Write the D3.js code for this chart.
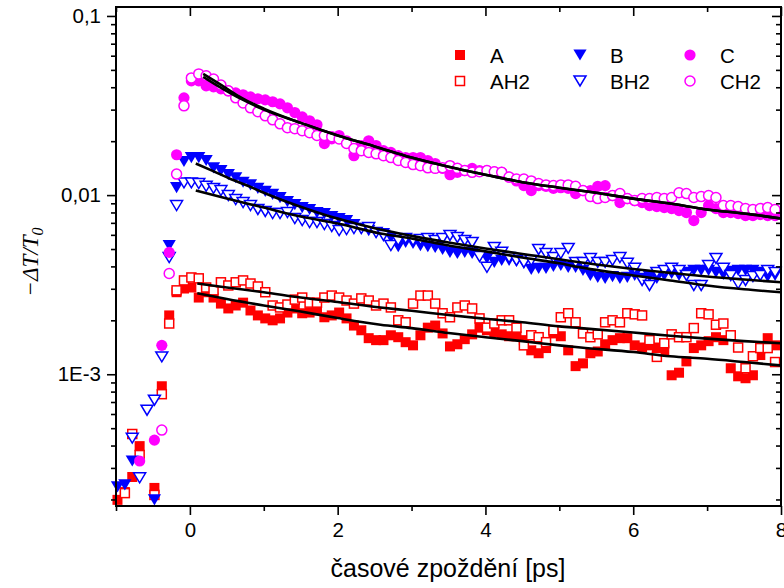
<!DOCTYPE html>
<html><head><meta charset="utf-8">
<script src="https://cdn.jsdelivr.net/npm/d3@7"></script>
<style>body{margin:0;background:#fff}svg{display:block}</style>
</head><body>
<svg id="c" width="784" height="588"></svg>
<script>
// ---------- data ----------
const times = [-0.98,-0.88,-0.78,-0.68,-0.58,-0.48,-0.38,-0.28,-0.18,-0.08,
 0.02,0.12,0.22,0.32,0.42,0.52,0.62,0.72,0.82,0.92,
 1.02,1.12,1.22,1.32,1.42,1.52,1.62,1.72,1.82,1.92,
 2.02,2.12,2.22,2.32,2.42,2.52,2.62,2.72,2.82,2.92,
 3.02,3.12,3.22,3.32,3.42,3.52,3.62,3.72,3.82,3.92,
 4.02,4.12,4.22,4.32,4.42,4.52,4.62,4.72,4.82,4.92,
 5.02,5.12,5.22,5.32,5.42,5.52,5.62,5.72,5.82,5.92,
 6.02,6.12,6.22,6.32,6.42,6.52,6.62,6.72,6.82,6.92,
 7.02,7.12,7.22,7.32,7.42,7.52,7.62,7.72,7.82,7.92];

const valuesA = [1.99e-4,2.20e-4,2.67e-4,3.97e-4,null,2.32e-4,8.57e-4,2.13e-3,2.87e-3,3.01e-3,
 3.05e-3,2.68e-3,2.87e-3,2.68e-3,2.48e-3,2.33e-3,2.42e-3,2.51e-3,2.27e-3,2.13e-3,
 2.05e-3,2.00e-3,2.05e-3,2.21e-3,2.33e-3,2.19e-3,2.21e-3,2.27e-3,2.08e-3,2.13e-3,
 2.21e-3,2.05e-3,1.87e-3,1.76e-3,1.59e-3,1.55e-3,1.55e-3,1.65e-3,1.61e-3,1.51e-3,
 1.45e-3,1.65e-3,1.82e-3,1.87e-3,1.69e-3,1.43e-3,1.47e-3,1.57e-3,1.67e-3,1.82e-3,
 1.76e-3,1.72e-3,1.67e-3,1.63e-3,1.63e-3,1.55e-3,1.36e-3,1.31e-3,1.40e-3,1.69e-3,
 1.63e-3,1.36e-3,1.11e-3,1.15e-3,1.31e-3,1.34e-3,1.47e-3,1.55e-3,1.59e-3,1.59e-3,
 1.45e-3,1.41e-3,1.45e-3,1.41e-3,1.36e-3,9.87e-4,1.02e-3,1.18e-3,1.40e-3,1.45e-3,
 1.53e-3,1.61e-3,1.55e-3,1.08e-3,9.74e-4,9.50e-4,9.87e-4,1.28e-3,1.59e-3,1.45e-3];

const valuesAH2 = [null,2.17e-4,4.64e-4,3.54e-4,null,2.12e-4,7.74e-4,1.92e-3,2.94e-3,3.34e-3,
 3.47e-3,3.43e-3,3.05e-3,2.94e-3,3.26e-3,3.13e-3,3.26e-3,3.34e-3,3.21e-3,3.09e-3,
 2.87e-3,2.42e-3,2.36e-3,2.45e-3,2.61e-3,2.68e-3,2.51e-3,2.51e-3,2.68e-3,2.75e-3,
 2.68e-3,2.58e-3,2.48e-3,2.65e-3,2.58e-3,2.42e-3,2.48e-3,2.36e-3,2.00e-3,1.95e-3,
 2.48e-3,2.75e-3,2.75e-3,2.48e-3,2.19e-3,2.08e-3,2.36e-3,2.42e-3,2.33e-3,2.05e-3,
 1.82e-3,1.92e-3,2.00e-3,2.00e-3,1.82e-3,1.45e-3,1.65e-3,1.61e-3,1.51e-3,1.76e-3,
 2.08e-3,2.19e-3,1.95e-3,1.69e-3,1.61e-3,1.67e-3,1.95e-3,2.00e-3,1.95e-3,2.19e-3,
 2.16e-3,2.13e-3,1.55e-3,1.25e-3,1.49e-3,1.67e-3,1.61e-3,1.61e-3,1.81e-3,2.19e-3,
 2.16e-3,1.89e-3,1.92e-3,1.65e-3,1.41e-3,1.08e-3,1.26e-3,1.40e-3,1.40e-3,1.17e-3];

const valuesB = [2.35e-4,2.41e-4,3.28e-4,null,null,1.99e-4,null,5.23e-3,1.10e-2,1.54e-2,
 1.62e-2,1.62e-2,1.56e-2,1.42e-2,1.37e-2,1.30e-2,1.25e-2,1.18e-2,1.14e-2,1.09e-2,
 1.05e-2,1.01e-2,9.69e-3,9.20e-3,8.85e-3,8.52e-3,8.31e-3,7.99e-3,7.89e-3,7.59e-3,
 7.40e-3,7.21e-3,6.85e-3,6.50e-3,6.34e-3,6.18e-3,6.10e-3,5.80e-3,5.16e-3,5.44e-3,
 5.37e-3,5.23e-3,5.16e-3,5.10e-3,4.97e-3,4.79e-3,4.72e-3,4.79e-3,4.72e-3,4.54e-3,
 4.43e-3,4.21e-3,4.32e-3,4.32e-3,4.27e-3,4.16e-3,3.85e-3,3.90e-3,3.90e-3,4.00e-3,
 4.05e-3,3.95e-3,3.95e-3,3.80e-3,3.56e-3,3.47e-3,3.43e-3,3.51e-3,3.43e-3,3.47e-3,
 3.56e-3,3.43e-3,3.51e-3,3.43e-3,3.56e-3,3.65e-3,3.56e-3,3.70e-3,3.80e-3,3.80e-3,
 3.80e-3,3.70e-3,3.61e-3,3.75e-3,3.80e-3,3.80e-3,3.80e-3,3.70e-3,3.51e-3,3.56e-3];

const valuesBH2 = [null,null,4.40e-4,2.64e-4,6.30e-4,7.16e-4,1.25e-3,4.48e-3,8.74e-3,1.17e-2,
 1.17e-2,1.16e-2,1.12e-2,1.09e-2,1.06e-2,9.94e-3,9.44e-3,9.08e-3,8.74e-3,8.31e-3,
 8.10e-3,7.89e-3,7.89e-3,7.99e-3,7.40e-3,7.21e-3,7.03e-3,7.03e-3,6.85e-3,6.67e-3,
 6.34e-3,6.42e-3,6.50e-3,6.50e-3,6.59e-3,6.18e-3,5.95e-3,5.23e-3,5.58e-3,5.73e-3,
 5.58e-3,5.65e-3,5.73e-3,5.58e-3,5.73e-3,5.95e-3,5.80e-3,5.58e-3,5.44e-3,4.54e-3,
 3.95e-3,5.10e-3,4.79e-3,4.48e-3,4.32e-3,4.21e-3,4.32e-3,4.97e-3,4.72e-3,4.48e-3,
 4.72e-3,5.04e-3,4.21e-3,4.21e-3,4.43e-3,4.21e-3,4.21e-3,4.32e-3,4.48e-3,4.16e-3,
 3.90e-3,3.34e-3,3.13e-3,3.70e-3,3.80e-3,3.90e-3,3.80e-3,3.56e-3,3.13e-3,3.13e-3,
 4.05e-3,4.43e-3,3.90e-3,3.56e-3,3.21e-3,3.34e-3,3.51e-3,3.56e-3,3.80e-3,3.70e-3];

const valuesC = [null,null,null,3.28e-4,null,4.29e-4,1.45e-3,4.79e-3,1.68e-2,3.49e-2,
 4.34e-2,4.34e-2,4.07e-2,4.02e-2,3.92e-2,3.82e-2,3.72e-2,3.63e-2,3.53e-2,3.45e-2,
 3.40e-2,3.32e-2,3.23e-2,3.07e-2,2.89e-2,2.73e-2,2.60e-2,2.47e-2,1.94e-2,2.06e-2,
 2.15e-2,2.01e-2,1.66e-2,1.89e-2,2.01e-2,1.89e-2,1.77e-2,1.73e-2,1.66e-2,1.62e-2,
 1.62e-2,1.62e-2,1.56e-2,1.50e-2,1.41e-2,1.30e-2,1.34e-2,1.37e-2,1.41e-2,1.37e-2,
 1.37e-2,1.35e-2,1.34e-2,1.26e-2,1.20e-2,1.13e-2,1.06e-2,1.13e-2,1.12e-2,1.09e-2,
 1.10e-2,1.09e-2,1.02e-2,1.06e-2,1.06e-2,1.12e-2,1.13e-2,9.94e-3,9.08e-3,9.56e-3,
 9.32e-3,9.08e-3,8.74e-3,8.63e-3,8.52e-3,8.41e-3,8.20e-3,7.99e-3,7.21e-3,7.99e-3,
 8.74e-3,8.41e-3,7.99e-3,7.99e-3,7.89e-3,7.69e-3,7.69e-3,7.79e-3,7.69e-3,7.69e-3];

const valuesCH2 = [null,null,null,null,null,null,4.88e-4,3.65e-3,1.31e-2,3.15e-2,
 4.51e-2,4.75e-2,4.63e-2,4.45e-2,4.12e-2,3.82e-2,3.49e-2,3.27e-2,3.07e-2,2.92e-2,
 2.77e-2,2.63e-2,2.50e-2,2.38e-2,2.35e-2,2.29e-2,2.23e-2,2.15e-2,2.15e-2,2.12e-2,
 2.06e-2,1.94e-2,1.82e-2,1.77e-2,1.73e-2,1.70e-2,1.66e-2,1.62e-2,1.56e-2,1.52e-2,
 1.48e-2,1.46e-2,1.42e-2,1.41e-2,1.42e-2,1.46e-2,1.41e-2,1.37e-2,1.34e-2,1.35e-2,
 1.37e-2,1.35e-2,1.34e-2,1.26e-2,1.23e-2,1.23e-2,1.20e-2,1.16e-2,1.14e-2,1.13e-2,
 1.14e-2,1.14e-2,1.12e-2,1.06e-2,9.81e-3,9.56e-3,9.69e-3,9.94e-3,1.02e-2,9.56e-3,
 9.32e-3,9.56e-3,9.56e-3,9.69e-3,9.56e-3,9.69e-3,1.03e-2,1.02e-2,9.69e-3,9.81e-3,
 9.94e-3,9.69e-3,8.74e-3,8.74e-3,8.63e-3,8.41e-3,8.31e-3,8.41e-3,8.52e-3,8.31e-3];

// fitted curves (sampled)
const fitTimesA = [0.1,0.5,1.0,1.5,2.0,2.58,3.0,3.5,4.0,4.5,5.0,5.29,6.0,6.5,7.0,7.5,8.0];
const fitA   = [2.83e-3,2.63e-3,2.42e-3,2.24e-3,2.06e-3,1.89e-3,1.81e-3,1.70e-3,1.61e-3,1.53e-3,1.45e-3,1.41e-3,1.33e-3,1.26e-3,1.22e-3,1.17e-3,1.12e-3];
const fitAH2 = [3.21e-3,3.05e-3,2.87e-3,2.68e-3,2.53e-3,2.36e-3,2.26e-3,2.14e-3,2.04e-3,1.95e-3,1.85e-3,1.81e-3,1.71e-3,1.64e-3,1.58e-3,1.53e-3,1.49e-3];
const fitTimesB = [0.08,0.3,0.55,0.8,1.0,1.45,1.9,2.2,2.58,3.0,3.5,4.0,4.5,5.0,5.5,6.0,6.5,7.0,7.5,8.0];
const fitB = [1.50e-2,1.37e-2,1.23e-2,1.12e-2,1.03e-2,8.74e-3,7.59e-3,7.03e-3,6.42e-3,5.92e-3,5.44e-3,5.04e-3,4.69e-3,4.38e-3,4.10e-3,3.87e-3,3.68e-3,3.51e-3,3.38e-3,3.26e-3];
const fitTimesBH2 = [0.08,0.5,1.0,1.5,2.0,2.58,3.0,3.5,4.0,4.5,5.0,5.29,6.0,6.5,7.0,7.5,8.0];
const fitBH2 = [1.06e-2,9.56e-3,8.52e-3,7.59e-3,6.94e-3,6.10e-3,5.73e-3,5.23e-3,4.85e-3,4.48e-3,4.16e-3,3.95e-3,3.56e-3,3.34e-3,3.13e-3,2.98e-3,2.87e-3];
const fitTimesC = [0.18,0.4,0.7,1.0,1.5,2.0,2.5,3.0,3.5,4.0,4.5,5.0,5.5,6.0,6.5,7.0,7.5,8.0];
const fitC   = [4.75e-2,4.18e-2,3.49e-2,3.04e-2,2.53e-2,2.15e-2,1.87e-2,1.62e-2,1.44e-2,1.30e-2,1.18e-2,1.10e-2,1.03e-2,9.56e-3,8.97e-3,8.31e-3,7.89e-3,7.40e-3];
const fitCH2 = [4.57e-2,4.02e-2,3.43e-2,3.00e-2,2.53e-2,2.15e-2,1.87e-2,1.62e-2,1.44e-2,1.30e-2,1.18e-2,1.10e-2,1.03e-2,9.56e-3,8.97e-3,8.31e-3,7.89e-3,7.40e-3];

const xTickValues = [0,2,4,6,8];
const xMinorTicks = [-1,1,3,5,7];
const yTickValues = [1e-3,1e-2,1e-1];
const yTickLabels = ["1E-3","0,01","0,1"];
const legendNames = ["A","AH2","B","BH2","C","CH2"];

// ---------- drawing ----------
const svg = d3.select('#c');
const M = {l:116, r:781, t:7, b:506};
const x = d3.scaleLinear().domain([-1,8]).range([M.l, M.r]);
const y = d3.scaleLog().domain([1.839e-4, 0.1122]).range([M.b, M.t]);
const FONT = "'Liberation Sans', Arial, sans-serif";

const series = [
  {name:legendNames[0], vals:valuesA,   color:'#ff0000', shape:'square',   open:false},
  {name:legendNames[1], vals:valuesAH2, color:'#ff0000', shape:'square',   open:true},
  {name:legendNames[2], vals:valuesB,   color:'#0000ff', shape:'triangle', open:false},
  {name:legendNames[3], vals:valuesBH2, color:'#0000ff', shape:'triangle', open:true},
  {name:legendNames[4], vals:valuesC,   color:'#ff00ff', shape:'circle',   open:false},
  {name:legendNames[5], vals:valuesCH2, color:'#ff00ff', shape:'circle',   open:true}
];
const fits = [
  {t:fitTimesA, v:fitA}, {t:fitTimesA, v:fitAH2},
  {t:fitTimesB, v:fitB}, {t:fitTimesBH2, v:fitBH2},
  {t:fitTimesC, v:fitC}, {t:fitTimesC, v:fitCH2}
];

function marker(sel, s) {
  sel.each(function(){
    const g = d3.select(this);
    const fill = s.open ? '#fff' : s.color;
    const sw = s.open ? 1.5 : 0;
    if (s.shape === 'square') {
      const a = s.open ? 9 : 10;
      g.append('rect').attr('x',-a/2).attr('y',-a/2).attr('width',a).attr('height',a)
        .attr('fill',fill).attr('stroke',s.color).attr('stroke-width',sw);
    } else if (s.shape === 'circle') {
      g.append('circle').attr('r', s.open ? 5 : 5.6)
        .attr('fill',fill).attr('stroke',s.color).attr('stroke-width',sw);
    } else {
      const w = s.open ? 6 : 6.6, h = s.open ? 5 : 5.6;
      g.append('path').attr('d',`M${-w},${-h}L${w},${-h}L0,${h}Z`)
        .attr('fill',fill).attr('stroke',s.color).attr('stroke-width',sw).attr('stroke-linejoin','miter');
    }
  });
}

// data points
series.forEach(s => {
  const pts = times.map((t,i)=>({t, v:s.vals[i]})).filter(d => d.v != null && d.t >= -1 && d.t <= 8);
  svg.append('g').selectAll('g').data(pts).join('g')
    .attr('transform', d => `translate(${x(d.t)},${y(d.v)})`)
    .call(sel => marker(sel, s));
});

// fit lines
const line = d3.line().x(d=>x(d.t)).y(d=>y(d.v)).curve(d3.curveMonotoneX);
fits.forEach(f => {
  const pts = f.t.map((t,i)=>({t, v:f.v[i]}));
  svg.append('path').datum(pts).attr('d', line)
    .attr('fill','none').attr('stroke','#000').attr('stroke-width',2.6);
});

// minor y ticks
const yMinor = [];
[1e-4,1e-3,1e-2].forEach(dec => { for (let k=2;k<=9;k++){ const v=k*dec; if (v>=1.839e-4 && v<=0.1122) yMinor.push(v);} });

function styleAxis(g){ g.select('.domain').remove(); g.selectAll('line').attr('stroke','#000').attr('stroke-width',1.6); g.selectAll('text').attr('font-family',FONT).attr('font-size',20.5).attr('fill','#000'); }

svg.append('g').attr('transform',`translate(0,${M.b})`)
  .call(d3.axisBottom(x).tickValues(xTickValues).tickSize(9).tickPadding(7).tickFormat(d3.format('d'))).call(styleAxis);
svg.append('g').attr('transform',`translate(0,${M.b})`)
  .call(d3.axisBottom(x).tickValues(xMinorTicks).tickSize(5).tickFormat('')).call(styleAxis);
svg.append('g').attr('transform',`translate(0,${M.t})`)
  .call(d3.axisTop(x).tickValues(xTickValues).tickSize(-9).tickFormat('')).call(styleAxis);
svg.append('g').attr('transform',`translate(0,${M.t})`)
  .call(d3.axisTop(x).tickValues(xMinorTicks).tickSize(-5).tickFormat('')).call(styleAxis);

svg.append('g').attr('transform',`translate(${M.l},0)`)
  .call(d3.axisLeft(y).tickValues(yTickValues).tickSize(9).tickPadding(6).tickFormat((d,i)=>yTickLabels[i])).call(styleAxis);
svg.append('g').attr('transform',`translate(${M.l},0)`)
  .call(d3.axisLeft(y).tickValues(yMinor).tickSize(5).tickFormat('')).call(styleAxis);
svg.append('g').attr('transform',`translate(${M.r},0)`)
  .call(d3.axisRight(y).tickValues(yTickValues).tickSize(-9).tickFormat('')).call(styleAxis);
svg.append('g').attr('transform',`translate(${M.r},0)`)
  .call(d3.axisRight(y).tickValues(yMinor).tickSize(-5).tickFormat('')).call(styleAxis);

// frame
svg.append('rect').attr('x',M.l).attr('y',M.t).attr('width',M.r-M.l).attr('height',M.b-M.t)
  .attr('fill','none').attr('stroke','#000').attr('stroke-width',2);

// legend
const legPos = [[460,55],[460,81],[580,55],[580,81],[690,55],[690,81]];
series.forEach((s,i) => {
  const [lx,ly] = legPos[i];
  svg.append('g').attr('transform',`translate(${lx},${ly})`).call(sel => marker(sel, s));
  svg.append('text').attr('x',lx+30).attr('y',ly+7.5).text(s.name)
    .attr('font-family',FONT).attr('font-size',20.5).attr('fill','#000');
});

// axis titles
svg.append('text').attr('x',448).attr('y',577).attr('text-anchor','middle')
  .attr('font-family',FONT).attr('font-size',25).text('časové zpoždění [ps]');

const yl = svg.append('text').attr('transform','translate(38,262) rotate(-90)').attr('text-anchor','middle')
  .attr('font-family',"'Liberation Serif','Times New Roman',serif").attr('font-size',23).attr('font-style','italic');
yl.append('tspan').text('−ΔT/T');
yl.append('tspan').attr('font-size',16).attr('dy',5).text('0');
</script>
</body></html>
